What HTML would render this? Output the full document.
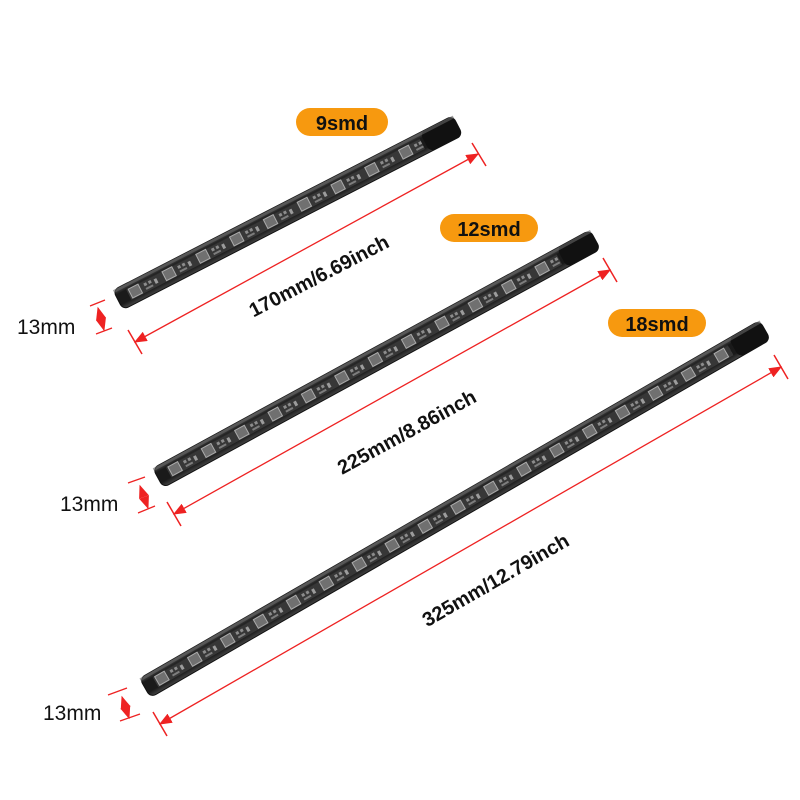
<!DOCTYPE html>
<html><head><meta charset="utf-8"><style>
html,body{margin:0;padding:0;background:#fff;}
svg{display:block}
text{font-family:"Liberation Sans",Arial,sans-serif}
</style></head><body>
<svg width="800" height="800" viewBox="0 0 800 800" xmlns="http://www.w3.org/2000/svg">
<defs>
<pattern id="leds" patternUnits="userSpaceOnUse" width="38" height="22" x="10" y="-11">
 <rect x="0" y="0" width="38" height="22" fill="#2a2a2a"/>
 <rect x="0" y="6" width="38" height="11" fill="#3a3a3a"/>
 <rect x="4" y="6" width="11" height="10" fill="#7a7a7a" stroke="#bbb" stroke-width="1"/>
 <rect x="20" y="8" width="3" height="3" fill="#999"/>
 <rect x="25" y="8" width="3" height="3" fill="#999"/>
 <rect x="20" y="13" width="8" height="2" fill="#888"/>
 <rect x="31" y="9" width="3" height="5" fill="#aaa"/>
</pattern>
<linearGradient id="tube" x1="0" y1="0" x2="0" y2="1">
 <stop offset="0" stop-color="#555"/><stop offset="0.25" stop-color="#1a1a1a"/><stop offset="0.75" stop-color="#1a1a1a"/><stop offset="1" stop-color="#444"/>
</linearGradient>
<marker id="ar" markerWidth="10" markerHeight="8" refX="9" refY="4" orient="auto"><path d="M0,0 L10,4 L0,8 z" fill="#e22"/></marker>
<marker id="al" markerWidth="10" markerHeight="8" refX="1" refY="4" orient="auto"><path d="M10,0 L0,4 L10,8 z" fill="#e22"/></marker>
</defs>

<g transform="translate(118,300) rotate(-27.2)">
 <rect x="0" y="-11" width="382" height="22" rx="6" fill="url(#tube)" stroke="#111" stroke-width="1"/>
 <rect x="12" y="-6" width="330" height="12" fill="url(#leds)" opacity="0.9"/>
 <rect x="345" y="-11" width="37" height="22" rx="6" fill="#111"/>
 <rect x="0" y="-11" width="382" height="3" fill="#666" opacity="0.6"/>
</g>
<g transform="translate(158,478) rotate(-28.6)">
 <rect x="0" y="-11" width="498" height="22" rx="6" fill="url(#tube)" stroke="#111" stroke-width="1"/>
 <rect x="12" y="-6" width="445" height="12" fill="url(#leds)" opacity="0.9"/>
 <rect x="460" y="-11" width="38" height="22" rx="6" fill="#111"/>
 <rect x="0" y="-11" width="498" height="3" fill="#666" opacity="0.6"/>
</g>
<g transform="translate(145,688) rotate(-30)">
 <rect x="0" y="-11" width="716" height="22" rx="6" fill="url(#tube)" stroke="#111" stroke-width="1"/>
 <rect x="12" y="-6" width="664" height="12" fill="url(#leds)" opacity="0.9"/>
 <rect x="680" y="-11" width="36" height="22" rx="6" fill="#111"/>
 <rect x="0" y="-11" width="716" height="3" fill="#666" opacity="0.6"/>
</g>

<g stroke="#e22" stroke-width="1.3" fill="none">
 <line x1="135" y1="342" x2="478" y2="154" marker-start="url(#al)" marker-end="url(#ar)"/>
 <line x1="128" y1="330" x2="142" y2="354" stroke-width="1.5"/><line x1="472" y1="143" x2="486" y2="166" stroke-width="1.5"/>
 <line x1="174" y1="514" x2="610" y2="270" marker-start="url(#al)" marker-end="url(#ar)"/>
 <line x1="167" y1="502" x2="181" y2="526" stroke-width="1.5"/><line x1="603" y1="258" x2="617" y2="282" stroke-width="1.5"/>
 <line x1="160" y1="724" x2="781" y2="367" marker-start="url(#al)" marker-end="url(#ar)"/>
 <line x1="153" y1="712" x2="167" y2="736" stroke-width="1.5"/><line x1="774" y1="355" x2="788" y2="379" stroke-width="1.5"/>
 <line x1="90" y1="306" x2="105" y2="300"/><line x1="96" y1="334" x2="112" y2="328"/>
 <line x1="98" y1="308" x2="104" y2="330" marker-start="url(#al)" marker-end="url(#ar)"/>
 <line x1="128" y1="483" x2="145" y2="477"/><line x1="138" y1="513" x2="155" y2="506"/>
 <line x1="140" y1="486" x2="148" y2="508" marker-start="url(#al)" marker-end="url(#ar)"/>
 <line x1="108" y1="695" x2="127" y2="688"/><line x1="120" y1="721" x2="140" y2="714"/>
 <line x1="122" y1="697" x2="129" y2="718" marker-start="url(#al)" marker-end="url(#ar)"/>
</g>

<rect x="296" y="108" width="92" height="28" rx="14" fill="#f7990f"/>
<text x="342" y="130" text-anchor="middle" font-size="20" font-weight="bold" fill="#111">9smd</text>
<rect x="440" y="214" width="98" height="28" rx="14" fill="#f7990f"/>
<text x="489" y="236" text-anchor="middle" font-size="20" font-weight="bold" fill="#111">12smd</text>
<rect x="608" y="309" width="98" height="28" rx="14" fill="#f7990f"/>
<text x="657" y="331" text-anchor="middle" font-size="20" font-weight="bold" fill="#111">18smd</text>

<text transform="translate(322,282) rotate(-27.5)" text-anchor="middle" font-size="20" font-weight="bold" fill="#111">170mm/6.69inch</text>
<text transform="translate(410,438) rotate(-28.6)" text-anchor="middle" font-size="20" font-weight="bold" fill="#111">225mm/8.86inch</text>
<text transform="translate(499,586) rotate(-30)" text-anchor="middle" font-size="20" font-weight="bold" fill="#111">325mm/12.79inch</text>

<text x="17" y="334" font-size="21" fill="#111">13mm</text>
<text x="60" y="511" font-size="21" fill="#111">13mm</text>
<text x="43" y="720" font-size="21" fill="#111">13mm</text>
</svg>
</body></html>
